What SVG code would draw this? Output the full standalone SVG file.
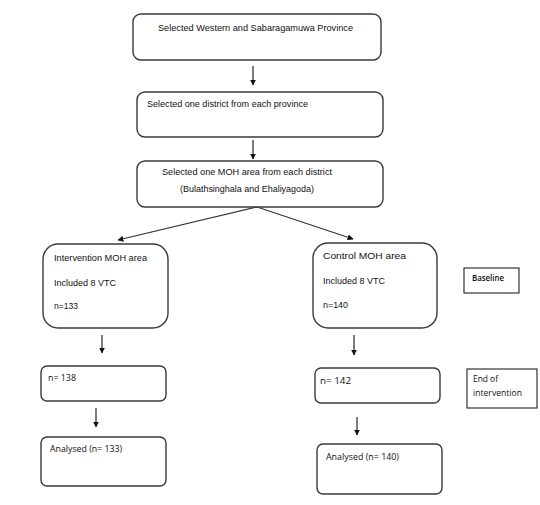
<svg xmlns="http://www.w3.org/2000/svg" width="540" height="505" viewBox="0 0 540 505">
<style>
.box{fill:#fff;stroke:#3a3a3a;stroke-width:1.4}
.sq{fill:#fff;stroke:#222;stroke-width:1.1}
.t{font-family:"Liberation Sans",Arial,sans-serif;font-size:9.5px;fill:#111}
.c{font-family:"Open Sans","Liberation Sans",sans-serif;font-size:8.5px;fill:#111}
.cb{font-family:"Open Sans","Liberation Sans",sans-serif;font-size:8.5px;fill:#111;font-weight:600}
.ln{stroke:#111;stroke-width:1.1;fill:none}
.dg{stroke:#333;stroke-width:1.2;fill:none}
</style>
<defs>
<marker id="ah" viewBox="0 0 10 10" refX="9" refY="5" markerWidth="6" markerHeight="6" markerUnits="userSpaceOnUse" orient="auto">
<path d="M0,0 L10,5 L0,10 z" fill="#111"/>
</marker>
</defs>
<rect width="540" height="505" fill="#fff"/>
<g id="connectors">
<line class="ln" x1="253" y1="66" x2="253" y2="85" marker-end="url(#ah)"/>
<line class="ln" x1="253" y1="140" x2="253" y2="159" marker-end="url(#ah)"/>
<line class="dg" x1="257" y1="207" x2="118" y2="240" marker-end="url(#ah)"/>
<line class="dg" x1="257" y1="207" x2="353" y2="239" marker-end="url(#ah)"/>
<line class="ln" x1="102" y1="335" x2="102" y2="353" marker-end="url(#ah)"/>
<line class="ln" x1="354" y1="335" x2="354" y2="355" marker-end="url(#ah)"/>
<line class="ln" x1="96" y1="408" x2="96" y2="427" marker-end="url(#ah)"/>
<line class="ln" x1="357" y1="417" x2="357" y2="435" marker-end="url(#ah)"/>
</g>
<g id="n1">
<rect class="box" x="133" y="14" width="248" height="46" rx="8"/>
<text class="t" x="158" y="31" textLength="195" lengthAdjust="spacingAndGlyphs">Selected Western and Sabaragamuwa Province</text>
</g>
<g id="n2">
<rect class="box" x="137" y="92" width="246" height="45" rx="8"/>
<text class="t" x="147" y="107" textLength="161" lengthAdjust="spacingAndGlyphs">Selected one district from each province</text>
</g>
<g id="n3">
<rect class="box" x="137" y="161" width="246" height="46" rx="8"/>
<text class="t" x="162" y="175" textLength="170" lengthAdjust="spacingAndGlyphs">Selected one MOH area from each district</text>
<text class="t" x="180" y="192" textLength="134" lengthAdjust="spacingAndGlyphs">(Bulathsinghala and Ehaliyagoda)</text>
</g>
<g id="n4">
<rect class="box" x="43" y="244" width="125" height="84" rx="15"/>
<text class="t" x="54" y="261" textLength="93" lengthAdjust="spacingAndGlyphs">Intervention MOH area</text>
<text class="t" x="54" y="286" textLength="62" lengthAdjust="spacingAndGlyphs">Included 8 VTC</text>
<text class="t" x="54" y="309" textLength="24" lengthAdjust="spacingAndGlyphs">n=133</text>
</g>
<g id="n5">
<rect class="box" x="313" y="243" width="124" height="85" rx="15"/>
<text class="t" x="323" y="259" textLength="83" lengthAdjust="spacingAndGlyphs">Control MOH area</text>
<text class="t" x="323" y="284" textLength="62" lengthAdjust="spacingAndGlyphs">Included 8 VTC</text>
<text class="t" x="323" y="308" textLength="25" lengthAdjust="spacingAndGlyphs">n=140</text>
</g>
<g id="n6">
<rect class="sq" x="464" y="268" width="55" height="25"/>
<text class="cb" x="472" y="281" textLength="32" lengthAdjust="spacingAndGlyphs">Baseline</text>
</g>
<g id="n7">
<rect class="box" x="41" y="366" width="125" height="35" rx="6"/>
<text class="c" x="48" y="381" textLength="28" lengthAdjust="spacingAndGlyphs">n= 138</text>
</g>
<g id="n8">
<rect class="box" x="315" y="368" width="125" height="35" rx="6"/>
<text class="c" x="320" y="384" textLength="31" lengthAdjust="spacingAndGlyphs">n= 142</text>
</g>
<g id="n9">
<rect class="sq" x="467" y="369" width="70" height="39"/>
<text class="c" x="473" y="382" textLength="25" lengthAdjust="spacingAndGlyphs">End of</text>
<text class="c" x="473" y="396" textLength="49" lengthAdjust="spacingAndGlyphs">intervention</text>
</g>
<g id="n10">
<rect class="box" x="41" y="437" width="125" height="49" rx="6"/>
<text class="c" x="50" y="452" textLength="72" lengthAdjust="spacingAndGlyphs">Analysed (n= 133)</text>
</g>
<g id="n11">
<rect class="box" x="317" y="444" width="125" height="50" rx="6"/>
<text class="c" x="326" y="460" textLength="73" lengthAdjust="spacingAndGlyphs">Analysed (n= 140)</text>
</g>
</svg>
